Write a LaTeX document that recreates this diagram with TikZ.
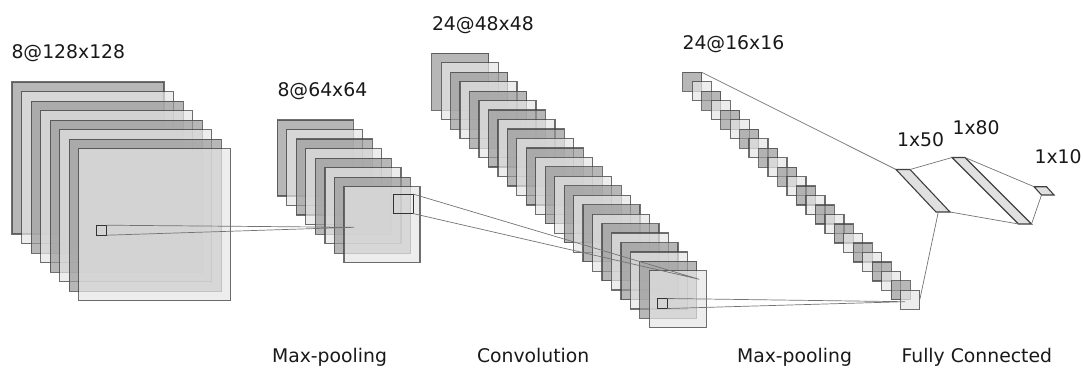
\documentclass[tikz,border=0pt]{standalone}
\usepackage{fontspec}
\setmainfont{DejaVu Sans}
\begin{document}
\begin{tikzpicture}[x=1pt, y=-1pt,
    fm/.style={draw=black!75, draw opacity=0.75, line width=1.2pt, fill opacity=0.7, inner sep=0pt, outer sep=0pt},
    kr/.style={draw=black!80, line width=1pt, inner sep=0pt, outer sep=0pt, minimum size=#1},
    ln/.style={draw=black!55, line width=0.7pt},
    fc/.style={draw=black!75, line width=1.1pt, fill=black!12},
    lb/.style={anchor=base west, font=\fontsize{18.8}{21}\selectfont, text=black!90}]
  \useasboundingbox (0,0) rectangle (1083,367);

  % input, 8@128x128
  \foreach \i in {0,...,7} {
    \pgfmathtruncatemacro\g{mod(\i,2)==0 ? 40 : 10}
    \node[fm, fill=black!\g, minimum size=152pt] (in\i) at ({88+9.55*\i}, {158+9.55*\i}) {};
  }
  \node[lb] (lin) at (8,58.3) {8@128x128};

  % max-pooling, 8@64x64
  \foreach \i in {0,...,7} {
    \pgfmathtruncatemacro\g{mod(\i,2)==0 ? 40 : 10}
    \node[fm, fill=black!\g, minimum size=76pt] (pa\i) at ({315.3+9.53*\i}, {158+9.53*\i}) {};
  }
  \node[lb] (lpa) at (274,96.7) {8@64x64};

  % convolution, 24@48x48
  \foreach \i in {0,...,23} {
    \pgfmathtruncatemacro\g{mod(\i,2)==0 ? 40 : 10}
    \node[fm, fill=black!\g, minimum size=57pt] (cv\i) at ({460.2+9.46*\i}, {81.8+9.46*\i}) {};
  }
  \node[lb] (lcv) at (428.5,30.7) {24@48x48};

  % max-pooling, 24@16x16
  \foreach \i in {0,...,23} {
    \pgfmathtruncatemacro\g{mod(\i,2)==0 ? 40 : 10}
    \node[fm, fill=black!\g, minimum size=19pt] (pb\i) at ({692.2+9.48*\i}, {81.8+9.48*\i}) {};
  }
  \node[lb] (lpb) at (679,49.3) {24@16x16};

  % kernels
  \node[kr=10pt] (k1) at (101.7,230.2) {};
  \node[kr=19.5pt] (k2) at (403.3,203.8) {};
  \node[kr=10pt] (k3) at (662.3,303.5) {};
  \coordinate (t1) at (354,227.3);
  \coordinate (t2) at (699.3,279.3);
  \coordinate (t3) at (905,301.7);
  \draw[ln] (k1.north east) -- (t1) (k1.south east) -- (t1);
  \draw[ln] (k2.north east) -- (t2) (k2.south east) -- (t2);
  \draw[ln] (k3.north east) -- (t3) (k3.south east) -- (t3);

  % fully connected
  \coordinate (f1a) at (896,169.5);  \coordinate (f1b) at (910,169.5);
  \coordinate (f1c) at (950,212);    \coordinate (f1d) at (936,212);
  \coordinate (f2a) at (952,157.5);  \coordinate (f2b) at (965,157.5);
  \coordinate (f2c) at (1031.5,224); \coordinate (f2d) at (1018.5,224);
  \coordinate (f3a) at (1034,186.7); \coordinate (f3b) at (1046.5,186.7);
  \coordinate (f3c) at (1054,195);   \coordinate (f3d) at (1041.5,195);
  \coordinate (f1e) at (938.3,212);
  \draw[fc] (f1a) -- (f1b) -- (f1c) -- (f1d) -- cycle;
  \draw[fc] (f2a) -- (f2b) -- (f2c) -- (f2d) -- cycle;
  \draw[fc] (f3a) -- (f3b) -- (f3c) -- (f3d) -- cycle;
  \draw[ln] (pb0.north east) -- (f1a);
  \draw[ln] (pb23.east) -- (f1e);
  \draw[ln] (f1b) -- (f2a) (f1c) -- (f2d);
  \draw[ln] (f2b) -- (f3a) (f2c) -- (f3d);
  \node[lb] (lf1) at (893.5,146) {1x50};
  \node[lb] (lf2) at (949,134) {1x80};
  \node[lb] (lf3) at (1031,163.3) {1x10};

  % operations
  \node[lb] (o1) at (268.5,362) {Max-pooling};
  \node[lb] (o2) at (473.5,362) {Convolution};
  \node[lb] (o3) at (733.5,362) {Max-pooling};
  \node[lb] (o4) at (898,362) {Fully Connected};
\end{tikzpicture}
\end{document}
